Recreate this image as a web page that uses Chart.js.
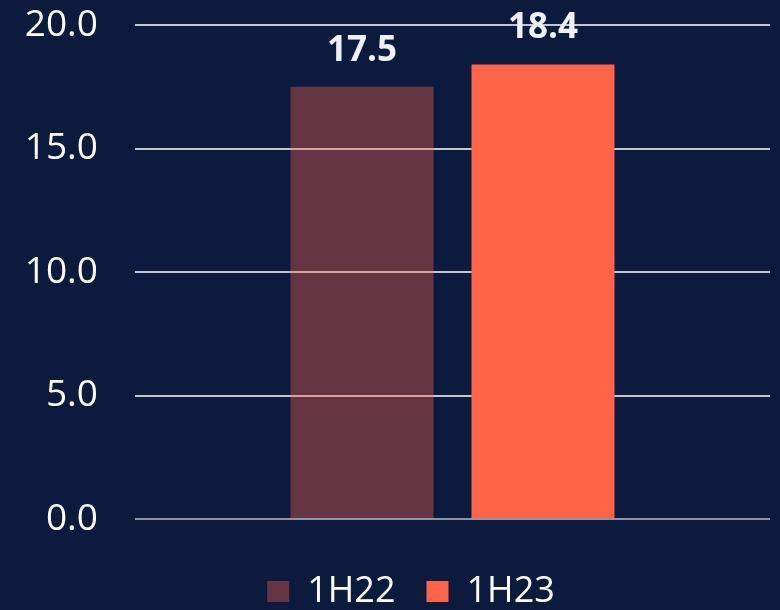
<!DOCTYPE html>
<html>
<head>
<meta charset="utf-8">
<style>
  html, body { margin: 0; padding: 0; background: #0c1a3d; }
  .chartBox { width: 780px; height: 610px; }
</style>
</head>
<body>
<div class="chartBox">
  <canvas id="myChart"></canvas>
</div>

<script src="https://cdn.jsdelivr.net/npm/chart.js/dist/chart.umd.min.js"></script>
<script>
// setup
const categories = [''];
const seriesNames = ['1H22', '1H23'];
const values1H22 = [17.5];
const values1H23 = [18.4];
const barColors = ['rgba(255, 100, 73, 0.37)', '#ff6449'];

const FONT = "'Open Sans', sans-serif";

// draw value labels above each bar
const valueLabels = {
  id: 'valueLabels',
  afterDatasetsDraw(chart) {
    const ctx = chart.ctx;
    ctx.save();
    ctx.font = 'bold 35px ' + FONT;
    ctx.fillStyle = '#eef0f8';
    ctx.textAlign = 'center';
    ctx.textBaseline = 'middle';
    chart.data.datasets.forEach((ds, i) => {
      chart.getDatasetMeta(i).data.forEach((bar, j) => {
        ctx.fillText(ds.data[j].toFixed(1), bar.x, bar.y - 36);
      });
    });
    ctx.restore();
  }
};

// legend sits a bit right of the canvas centre
const legendShift = {
  id: 'legendShift',
  afterLayout(chart) {
    chart.legend.left += 26;
    chart.legend.right += 26;
  }
};

const data = {
  labels: categories,
  datasets: [
    { label: seriesNames[0], data: values1H22, backgroundColor: barColors[0] },
    { label: seriesNames[1], data: values1H23, backgroundColor: barColors[1] }
  ]
};

const config = {
  type: 'bar',
  data,
  options: {
    responsive: true,
    maintainAspectRatio: false,
    animation: false,
    layout: { padding: { left: 0, right: 10, top: 25, bottom: -9.5 } },
    datasets: { bar: { categoryPercentage: 0.57, barPercentage: 0.79 } },
    plugins: {
      tooltip: { enabled: false },
      legend: {
        position: 'bottom',
        labels: {
          color: '#ffffff',
          font: { family: FONT, size: 36 },
          boxWidth: 22,
          boxHeight: 21,
          padding: 31
        }
      }
    },
    scales: {
      x: {
        grid: { display: false },
        border: { display: false },
        ticks: { display: false },
        afterFit(scale) { scale.height = 23.5; }
      },
      y: {
        min: 0,
        max: 20,
        afterFit(scale) {
          scale.width = 135;
          scale.paddingTop = 0;
          scale.paddingBottom = 0;
        },
        ticks: {
          stepSize: 5,
          color: '#ffffff',
          padding: 37,
          font: { family: FONT, size: 37 },
          callback: v => v.toFixed(1)
        },
        grid: {
          drawTicks: false,
          lineWidth: 2,
          color: c => c.tick.value === 0 ? '#8e93a8' : '#c3c6d1'
        },
        border: { display: false }
      }
    }
  },
  plugins: [valueLabels, legendShift]
};

// render init block
const myChart = new Chart(document.getElementById('myChart'), config);
</script>
</body>
</html>
